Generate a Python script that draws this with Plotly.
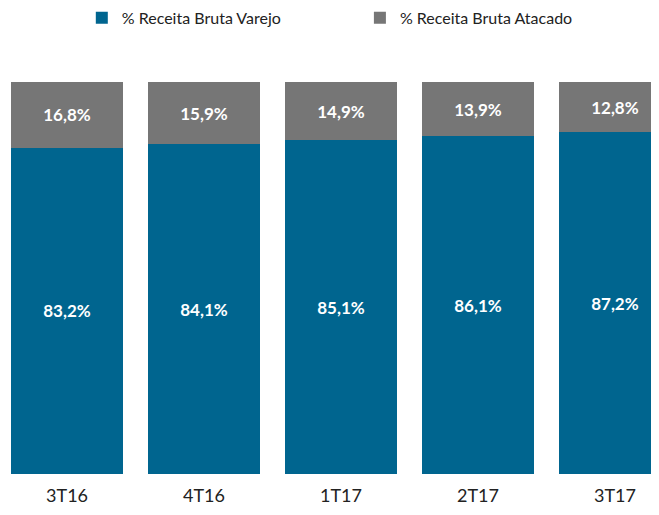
import plotly.graph_objects as go

periodos = ["3T16", "4T16", "1T17", "2T17", "3T17"]
varejo = [83.2, 84.1, 85.1, 86.1, 87.2]
atacado = [16.8, 15.9, 14.9, 13.9, 12.8]

AZUL = "#00658F"
CINZA = "#767676"


def fmt(v):
    return f"{v:.1f}%".replace(".", ",")


fig = go.Figure()

fig.add_trace(go.Bar(
    x=periodos, y=varejo,
    name="% Receita Bruta Varejo",
    legend="legend",
    marker=dict(color=AZUL, line=dict(width=0)),
    text=[fmt(v) for v in varejo],
    textposition="inside", insidetextanchor="middle",
    textfont=dict(color="white", size=17, family="Lato", weight="bold"),
))

fig.add_trace(go.Bar(
    x=periodos, y=atacado,
    name="% Receita Bruta Atacado",
    legend="legend2",
    marker=dict(color=CINZA, line=dict(width=0)),
    text=[fmt(v) for v in atacado],
    textposition="inside", insidetextanchor="middle",
    textfont=dict(color="white", size=17, family="Lato", weight="bold"),
))

# one legend box per series so each can sit where the original has it
leg = dict(
    orientation="h",
    xanchor="left",
    y=0.981, yanchor="middle", yref="container",
    font=dict(size=16, family="Lato", color="#222222"),
    itemclick=False,
)

# page body has an 8px margin, so positions are shifted to compensate
fig.update_layout(
    barmode="stack",
    bargap=0.18,
    width=659, height=515,
    paper_bgcolor="white",
    plot_bgcolor="white",
    margin=dict(t=74, b=49, l=0, r=0),
    font=dict(family="Lato", color="#222222"),
    uniformtext=dict(mode="show", minsize=17),
    legend=dict(leg, x=0.112),
    legend2=dict(leg, x=0.534),
    showlegend=True,
)

fig.update_xaxes(
    range=[-0.431, 4.38],
    showgrid=False, showline=False, zeroline=False,
    tickfont=dict(size=18, family="Lato", color="#222222"),
    ticklabelstandoff=9,
)
fig.update_yaxes(range=[0, 100], visible=False)

fig.write_html("out.html")
